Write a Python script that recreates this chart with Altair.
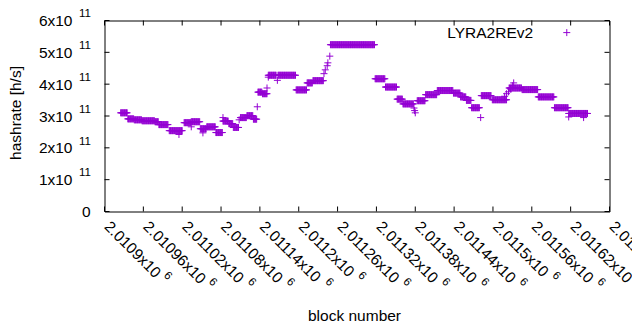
import altair as alt
import pandas as pd

# ---- data (hashrate in units of 1e11 h/s) ----
run_start = [2010925, 2010936, 2010946, 2010958, 2010978, 2010984, 2011000, 2011023, 2011034, 2011048,
             2011058, 2011072, 2011083, 2011092, 2011099, 2011110, 2011120, 2011130, 2011137, 2011144,
             2011153, 2011168, 2011196, 2011213, 2011222, 2011249, 2011318, 2011334, 2011352, 2011361,
             2011383, 2011396, 2011414, 2011439, 2011450, 2011459, 2011467, 2011482, 2011499, 2011525,
             2011545, 2011570, 2011595, 2011617]
run_end = [2010935, 2010945, 2010957, 2010977, 2010983, 2010998, 2011020, 2011033, 2011047, 2011057,
           2011071, 2011082, 2011091, 2011098, 2011107, 2011119, 2011129, 2011135, 2011143, 2011151,
           2011165, 2011195, 2011212, 2011221, 2011238, 2011317, 2011333, 2011351, 2011360, 2011377,
           2011395, 2011413, 2011438, 2011449, 2011458, 2011466, 2011479, 2011497, 2011521, 2011544,
           2011569, 2011594, 2011616, 2011646]
run_value = [3.10, 2.91, 2.88, 2.85, 2.82, 2.73, 2.54, 2.79, 2.82, 2.60,
             2.66, 2.48, 2.84, 2.76, 2.64, 2.95, 3.01, 2.90, 3.75, 3.70,
             4.28, 4.28, 3.82, 4.04, 4.11, 5.24, 4.17, 3.91, 3.53, 3.38,
             3.48, 3.67, 3.80, 3.72, 3.60, 3.49, 3.26, 3.64, 3.51, 3.88,
             3.83, 3.60, 3.26, 3.08]

single_block = [2011015, 2011034, 2011052, 2011083, 2011108, 2011136, 2011151, 2011153, 2011167,
                2011239, 2011241, 2011244, 2011245, 2011248, 2011378, 2011379, 2011380, 2011481,
                2011518, 2011521, 2011524, 2011527, 2011530, 2011532, 2011617, 2011640]
single_value = [2.42, 2.66, 2.47, 2.95, 2.88, 3.29, 3.88, 4.22, 4.12,
                4.33, 4.45, 4.58, 4.67, 4.88, 3.25, 3.17, 3.10, 2.95,
                3.62, 3.70, 3.76, 3.85, 3.95, 4.04, 2.97, 2.95]

x_ticks = [2010900, 2010960, 2011020, 2011080, 2011140, 2011200, 2011260,
           2011320, 2011380, 2011440, 2011500, 2011560, 2011620, 2011680]
y_ticks = [0, 1e11, 2e11, 3e11, 4e11, 5e11, 6e11]
x_exp = "6"
y_exp = "11"

series_name = "LYRA2REv2"
legend_block = [2011562, 2011614]
legend_value = [5.62e11]

rows = []
for s, e, v in zip(run_start, run_end, run_value):
    for b in range(s, e + 1):
        rows.append({"block": b, "hashrate": v * 1e11})
for b, v in zip(single_block, single_value):
    rows.append({"block": b, "hashrate": v * 1e11})
df = pd.DataFrame(rows)

X_DOM = [x_ticks[0], x_ticks[-1]]
Y_DOM = [y_ticks[0], y_ticks[-1]]
FONT = "Liberation Sans"
FS = 15.5
FS_EXP = 11.5
COLOR = "#9400d3"
PLUS = "M-1,0L1,0M0,-1L0,1"

xs = alt.Scale(domain=X_DOM, nice=False, zero=False)
ys = alt.Scale(domain=Y_DOM, nice=False)

x_axis = alt.Axis(
    values=x_ticks, labelExpr="(datum.value/1000000) + 'x10'",
    labelAngle=45, labelAlign="left", labelBaseline="middle",
    labelPadding=12, labelOffset=2, ticks=False, tickSize=0, domain=False, grid=False,
    labelOverlap=False, labelFlush=False, labelBound=False,
    labelFont=FONT, labelFontSize=FS, labelColor="black",
    title="block number", titleFont=FONT, titleFontSize=FS, titleFontWeight="normal",
    titleColor="black", titleX=249.5, titleY=103.5, titleAlign="center",
    titleBaseline="middle", titleAngle=0)
y_axis = alt.Axis(
    values=y_ticks,
    labelExpr="datum.value == 0 ? '0' : (datum.value/100000000000) + 'x10'",
    labelPadding={"condition": {"test": "datum.value == 0", "value": 14.5}, "value": 32.5},
    ticks=False, tickSize=0, domain=False, grid=False,
    labelOverlap=False, labelFlush=False, labelBound=False,
    labelFont=FONT, labelFontSize=FS, labelColor="black", labelBaseline="middle",
    title="hashrate [h/s]", titleFont=FONT, titleFontSize=FS, titleFontWeight="normal",
    titleColor="black", titleX=-88.6, titleY=92, titleAlign="center",
    titleBaseline="middle", titleAngle=270)

points = alt.Chart(df).mark_point(
    shape=PLUS, size=49, filled=False, strokeWidth=1, opacity=1, color=COLOR
).encode(
    x=alt.X("block:Q", scale=xs, axis=x_axis),
    y=alt.Y("hashrate:Q", scale=ys, axis=y_axis),
)

TL = 5
xt = pd.DataFrame({"t": x_ticks})
yt = pd.DataFrame({"t": y_ticks})
x_len = (X_DOM[1] - X_DOM[0]) * TL / 505
y_len = (Y_DOM[1] - Y_DOM[0]) * TL / 191

tick_bottom = alt.Chart(xt).mark_rule(color="black", strokeWidth=1).encode(
    x=alt.X("t:Q", scale=xs, axis=x_axis),
    y=alt.datum(Y_DOM[0], scale=ys, axis=y_axis), y2=alt.datum(Y_DOM[0] + y_len))
tick_top = alt.Chart(xt).mark_rule(color="black", strokeWidth=1).encode(
    x=alt.X("t:Q", scale=xs, axis=x_axis),
    y=alt.datum(Y_DOM[1], scale=ys, axis=y_axis), y2=alt.datum(Y_DOM[1] - y_len))
tick_left = alt.Chart(yt).mark_rule(color="black", strokeWidth=1).encode(
    y=alt.Y("t:Q", scale=ys, axis=y_axis),
    x=alt.datum(X_DOM[0], scale=xs, axis=x_axis), x2=alt.datum(X_DOM[0] + x_len))
tick_right = alt.Chart(yt).mark_rule(color="black", strokeWidth=1).encode(
    y=alt.Y("t:Q", scale=ys, axis=y_axis),
    x=alt.datum(X_DOM[1], scale=xs, axis=x_axis), x2=alt.datum(X_DOM[1] - x_len))

# exponents of the tick labels (superscripts)
yexp_df = pd.DataFrame({"t": [v for v in y_ticks if v > 0], "e": y_exp})
y_exp_layer = alt.Chart(yexp_df).mark_text(
    align="right", baseline="middle", font=FONT, fontSize=FS_EXP, color="black",
    dx=-13.5, dy=-6.3
).encode(y=alt.Y("t:Q", scale=ys, axis=y_axis),
         x=alt.datum(X_DOM[0], scale=xs, axis=x_axis), text="e:N")

x_short = [t for t in x_ticks if len(f"{t/1e6:g}") <= 6]
x_long = [t for t in x_ticks if len(f"{t/1e6:g}") > 6]
U0, V0 = (2 + 12) * 0.7071, (12 - 2) * 0.7071
W_SHORT = 4.670 * FS   # advance of e.g. "2.0109x10"
W_LONG = 5.226 * FS    # advance of e.g. "2.01096x10"
GAP = 5
RAISE = 6

def x_exp_layer(ticks, w):
    d = pd.DataFrame({"t": ticks, "e": x_exp})
    return alt.Chart(d).mark_text(
        align="left", baseline="middle", font=FONT, fontSize=FS_EXP, color="black",
        angle=45, dx=U0 + w + GAP, dy=V0 - RAISE
    ).encode(x=alt.X("t:Q", scale=xs, axis=x_axis),
             y=alt.datum(Y_DOM[0], scale=ys, axis=y_axis), text="e:N")

leg_df = pd.DataFrame({"block": [legend_block[0]], "hashrate": legend_value, "name": [series_name]})
leg_text = alt.Chart(leg_df).mark_text(
    align="right", baseline="middle", font=FONT, fontSize=FS, color="black"
).encode(x=alt.X("block:Q", scale=xs, axis=x_axis),
         y=alt.Y("hashrate:Q", scale=ys, axis=y_axis), text="name:N")
leg_pt_df = pd.DataFrame({"block": [legend_block[1]], "hashrate": legend_value})
leg_pt = alt.Chart(leg_pt_df).mark_point(
    shape=PLUS, size=49, filled=False, strokeWidth=1, opacity=1, color=COLOR
).encode(x=alt.X("block:Q", scale=xs, axis=x_axis), y=alt.Y("hashrate:Q", scale=ys, axis=y_axis))

chart = alt.layer(
    points, tick_bottom, tick_top, tick_left, tick_right,
    y_exp_layer, x_exp_layer(x_short, W_SHORT), x_exp_layer(x_long, W_LONG),
    leg_text, leg_pt
).properties(
    width=505, height=191,
    autosize=alt.AutoSizeParams(type="none"),
    padding={"left": 96.5, "top": 12.5, "right": 22.5, "bottom": 110.5},
    background="white",
).configure_view(stroke="black", strokeWidth=1).configure_axis(
    labelOverlap=False, labelFlush=False, labelBound=False)

chart.save("out.html", embed_options={"renderer": "svg", "actions": False})
